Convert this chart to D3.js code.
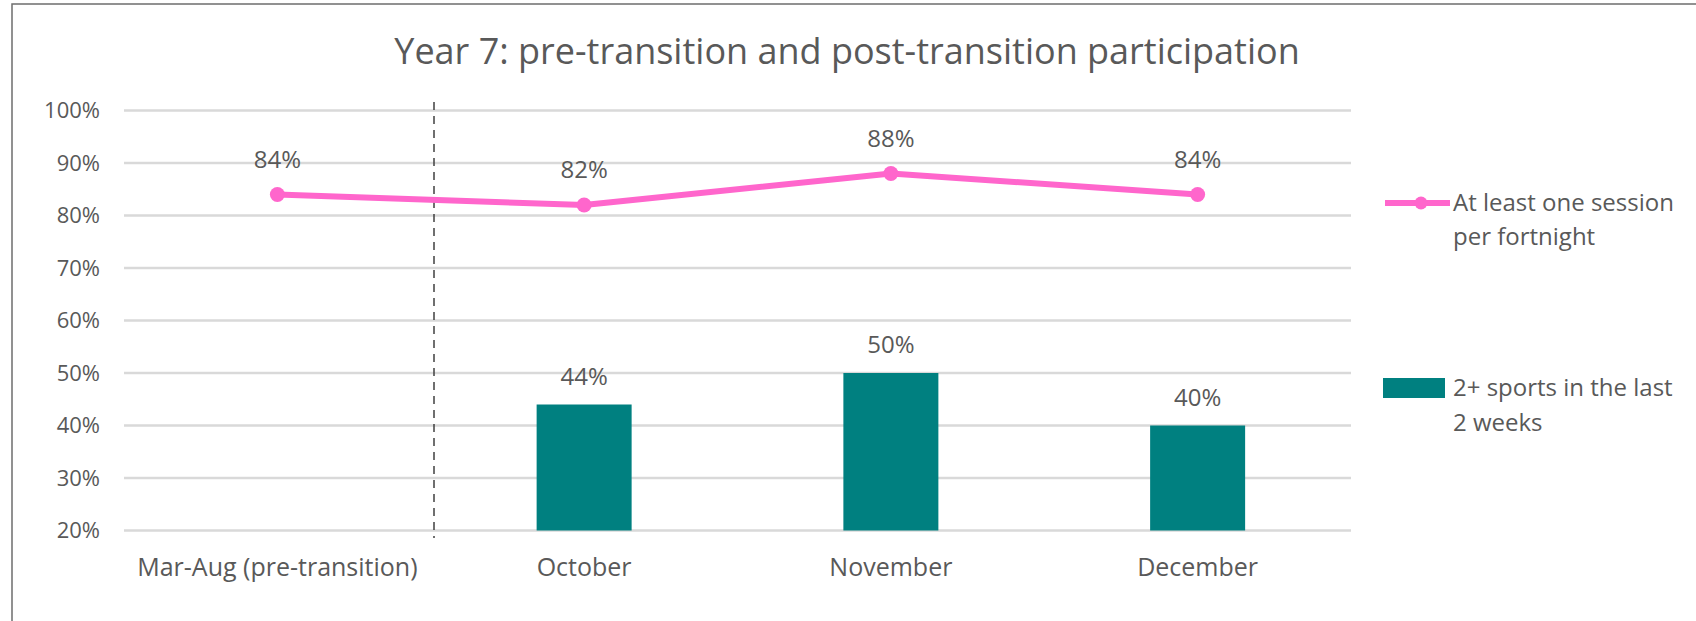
<!DOCTYPE html>
<html>
<head>
<meta charset="utf-8">
<script src="https://cdn.jsdelivr.net/npm/d3@7"></script>
<style>
  html, body { margin: 0; padding: 0; background: #fff; }
  svg { display: block; font-family: "Open Sans", sans-serif; }
  .grid line { stroke: #d9d9d9; stroke-width: 2.5; }
  .tick-label, .cat-label, .val-label, .legend-text { fill: #595959; }
</style>
</head>
<body>
<svg id="chart"></svg>
<script>
// ── data ──
const categories = ['Mar-Aug (pre-transition)', 'October', 'November', 'December'];
const sessionValues = [84, 82, 88, 84];          // At least one session per fortnight
const sportsValues = [null, 44, 50, 40];          // 2+ sports in the last 2 weeks
const yTicks = [20, 30, 40, 50, 60, 70, 80, 90, 100];
const titleText = 'Year 7: pre-transition and post-transition participation';
const legendLine = ['At least one session', 'per fortnight'];
const legendBar = ['2+ sports in the last', '2 weeks'];

const W = 1696, H = 621;
const PINK = '#ff66cc', TEAL = '#008080';

const svg = d3.select('#chart').attr('width', W).attr('height', H);

// outer chart border (only top and left are inside the crop)
svg.append('rect')
  .attr('x', 12).attr('y', 4).attr('width', W + 20).attr('height', H + 20)
  .attr('fill', 'none').attr('stroke', '#6e6e6e').attr('stroke-width', 1.5);

const plot = { left: 124, right: 1351, top: 110.5, bottom: 530.5 };

const x = d3.scaleBand().domain(categories).range([plot.left, plot.right]);
const y = d3.scaleLinear().domain([20, 100]).range([plot.bottom, plot.top]);
const barW = 95;

// gridlines
svg.append('g').attr('class', 'grid')
  .selectAll('line').data(yTicks).join('line')
  .attr('x1', plot.left).attr('x2', plot.right)
  .attr('y1', d => y(d)).attr('y2', d => y(d));

// y axis labels
svg.append('g').selectAll('text').data(yTicks).join('text')
  .attr('class', 'tick-label')
  .attr('x', 100).attr('y', d => y(d))
  .attr('dy', '0.35em').attr('text-anchor', 'end')
  .style('font-size', '22px')
  .text(d => d + '%');

// category labels
svg.append('g').selectAll('text').data(categories).join('text')
  .attr('class', 'cat-label')
  .attr('x', d => x(d) + x.bandwidth() / 2).attr('y', 567)
  .attr('dy', '0.35em').attr('text-anchor', 'middle')
  .style('font-size', '25px')
  .text(d => d);

// bars
const barData = categories.map((c, i) => ({ c, v: sportsValues[i] })).filter(d => d.v != null);
svg.append('g').selectAll('rect').data(barData).join('rect')
  .attr('x', d => x(d.c) + x.bandwidth() / 2 - barW / 2)
  .attr('width', barW)
  .attr('y', d => y(d.v))
  .attr('height', d => y(20) - y(d.v))
  .attr('fill', TEAL);

svg.append('g').selectAll('text').data(barData).join('text')
  .attr('class', 'val-label')
  .attr('x', d => x(d.c) + x.bandwidth() / 2)
  .attr('y', d => y(d.v) - 28)
  .attr('dy', '0.35em').attr('text-anchor', 'middle')
  .style('font-size', '24px')
  .text(d => d.v + '%');

// divider between pre and post transition
const divX = 434;
svg.append('line')
  .attr('x1', divX).attr('x2', divX).attr('y1', 102).attr('y2', 538)
  .attr('stroke', '#404040').attr('stroke-width', 1.5)
  .attr('stroke-dasharray', '8,6');

// line series
const lineData = categories.map((c, i) => ({ c, v: sessionValues[i] }));
const line = d3.line()
  .x(d => x(d.c) + x.bandwidth() / 2)
  .y(d => y(d.v));

svg.append('path').datum(lineData)
  .attr('d', line)
  .attr('fill', 'none').attr('stroke', PINK)
  .attr('stroke-width', 6).attr('stroke-linejoin', 'round');

svg.append('g').selectAll('circle').data(lineData).join('circle')
  .attr('cx', d => x(d.c) + x.bandwidth() / 2)
  .attr('cy', d => y(d.v))
  .attr('r', 7.5).attr('fill', PINK);

svg.append('g').selectAll('text').data(lineData).join('text')
  .attr('class', 'val-label')
  .attr('x', d => x(d.c) + x.bandwidth() / 2)
  .attr('y', d => y(d.v) - 35)
  .attr('dy', '0.35em').attr('text-anchor', 'middle')
  .style('font-size', '24px')
  .text(d => d.v + '%');

// title
svg.append('text')
  .attr('x', 847).attr('y', 51).attr('dy', '0.35em')
  .attr('text-anchor', 'middle')
  .attr('fill', '#595959')
  .style('font-size', '36px')
  .text(titleText);

// legend
const lg = svg.append('g');
lg.append('line')
  .attr('x1', 1385).attr('x2', 1450).attr('y1', 203).attr('y2', 203)
  .attr('stroke', PINK).attr('stroke-width', 6);
lg.append('circle').attr('cx', 1421).attr('cy', 203).attr('r', 6.5).attr('fill', PINK);
lg.append('text').attr('class', 'legend-text')
  .attr('x', 1453).attr('y', 203).style('font-size', '24px')
  .selectAll('tspan').data(legendLine).join('tspan')
  .attr('x', 1453).attr('dy', (d, i) => i === 0 ? '0.35em' : 34)
  .text(d => d);

lg.append('rect')
  .attr('x', 1383).attr('y', 378).attr('width', 62).attr('height', 20)
  .attr('fill', TEAL);
lg.append('text').attr('class', 'legend-text')
  .attr('x', 1453).attr('y', 388).style('font-size', '24px')
  .selectAll('tspan').data(legendBar).join('tspan')
  .attr('x', 1453).attr('dy', (d, i) => i === 0 ? '0.35em' : 35)
  .text(d => d);
</script>
</body>
</html>
